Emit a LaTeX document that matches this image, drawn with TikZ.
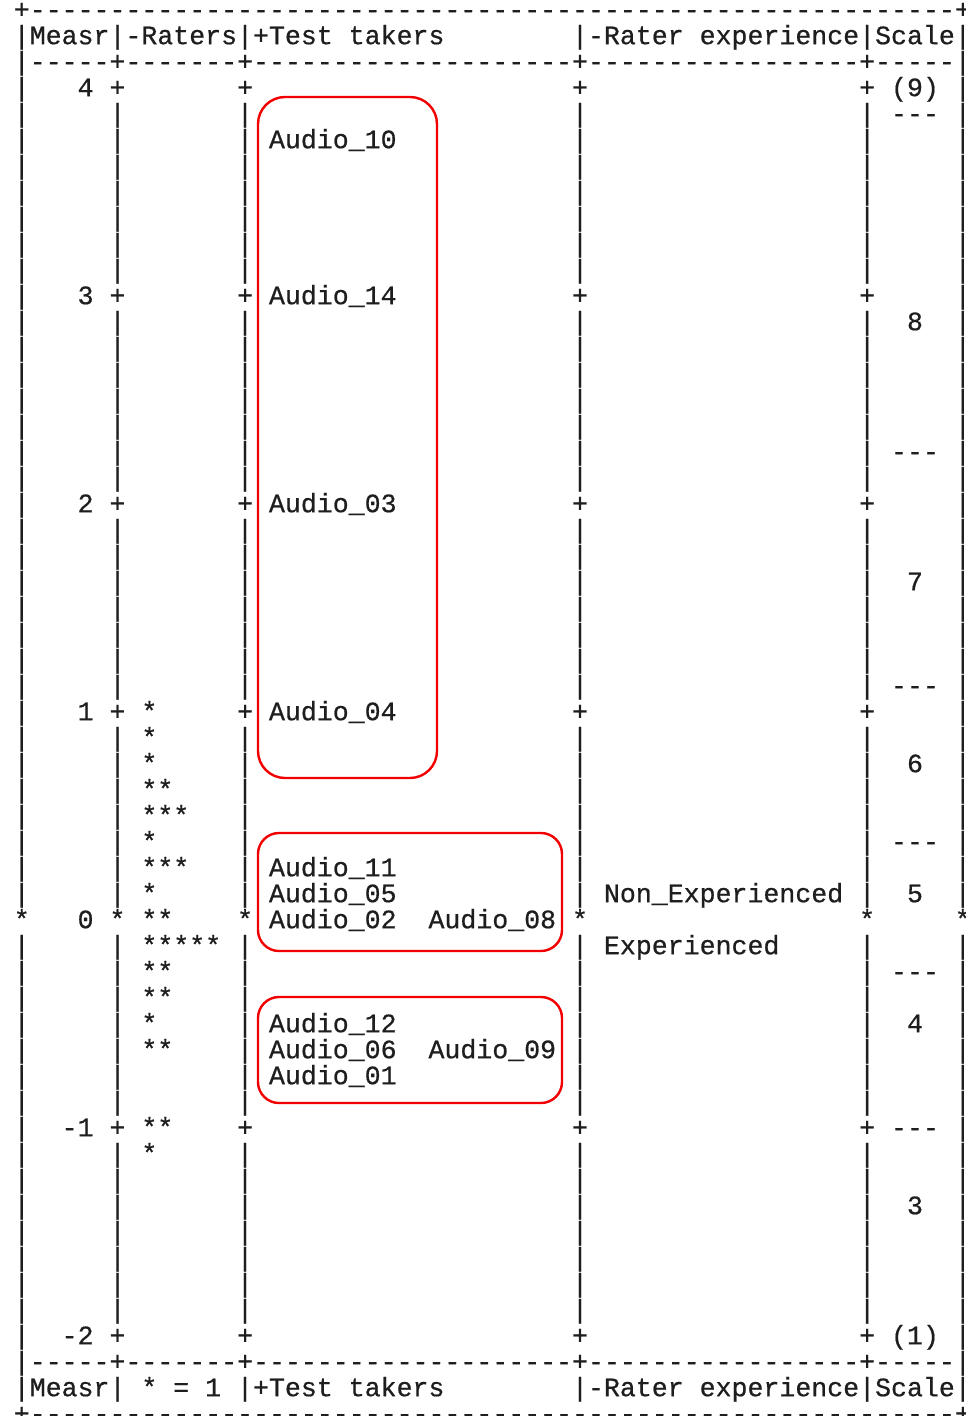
\documentclass[tikz,border=0pt]{standalone}
\usepackage{fontspec}
\newfontfamily\monofnt[FakeBold=0.6]{Liberation Mono}
\definecolor{ink}{HTML}{1E1E1E}
\definecolor{boxred}{HTML}{F20000}
\tikzset{
  txt/.style={anchor=base west, inner sep=0pt, outer sep=0pt,
    font=\monofnt\fontsize{26.58}{26}\selectfont, text=ink},
  redbox/.style={draw=boxred, line width=2.4pt},
}
\newcommand\cellt[3]{\node[txt] (c#1r#2) at ({13.8+15.95*#1},{9+26*#2+9.2}) {#3};}
\begin{document}
\begin{tikzpicture}[x=1pt,y=-1pt]
\useasboundingbox (0,0) rectangle (966,1416);
% ---- border lines (rows 0 and 54)
\foreach \r in {0,54}{
  \cellt{0}{\r}{+}\cellt{59}{\r}{+}
  \foreach \c in {1,...,58}{\cellt{\c}{\r}{-}}
}
% ---- separator lines (rows 2 and 52)
\foreach \r in {2,52}{
  \cellt{0}{\r}{|}\cellt{59}{\r}{|}
  \foreach \c in {1,...,58}{
    \ifnum\c=6 \def\sym{+}\else\ifnum\c=14 \def\sym{+}\else\ifnum\c=35 \def\sym{+}\else\ifnum\c=53 \def\sym{+}\else\def\sym{-}\fi\fi\fi\fi
    \cellt{\c}{\r}{\sym}}
}
% ---- header and footer rows
\foreach \r in {1,53}{
  \foreach \c in {0,6,14,35,53,59}{\cellt{\c}{\r}{|}}
  \cellt{1}{\r}{Measr}
  \cellt{15}{\r}{+}\cellt{16}{\r}{Test}\cellt{21}{\r}{takers}
  \cellt{36}{\r}{-}\cellt{37}{\r}{Rater}\cellt{43}{\r}{experience}
  \cellt{54}{\r}{Scale}
}
\cellt{7}{1}{-}\cellt{8}{1}{Raters}
\cellt{8}{53}{*}\cellt{10}{53}{=}\cellt{12}{53}{1}
% ---- body column rules
\foreach \r in {3,...,51}{
  \pgfmathtruncatemacro\m{mod(\r-3,8)}
  \ifnum\m=0 \def\sym{+}\else\def\sym{|}\fi
  \def\edge{|}
  \ifnum\r=35 \def\sym{*}\def\edge{*}\fi
  \foreach \c in {6,14,35,53}{\cellt{\c}{\r}{\sym}}
  \cellt{0}{\r}{\edge}\cellt{59}{\r}{\edge}
}
% ---- measure values
\cellt{4}{3}{4}\cellt{4}{11}{3}\cellt{4}{19}{2}\cellt{4}{27}{1}\cellt{4}{35}{0}
\cellt{3}{43}{-}\cellt{4}{43}{1}
\cellt{3}{51}{-}\cellt{4}{51}{2}
% ---- raters
\cellt{8}{27}{*}\cellt{8}{28}{*}\cellt{8}{29}{*}\cellt{8}{30}{**}
\cellt{8}{31}{***}\cellt{8}{32}{*}\cellt{8}{33}{***}\cellt{8}{34}{*}
\cellt{8}{35}{**}\cellt{8}{36}{*****}\cellt{8}{37}{**}\cellt{8}{38}{**}
\cellt{8}{39}{*}\cellt{8}{40}{**}\cellt{8}{43}{**}\cellt{8}{44}{*}
% ---- test takers
\cellt{16}{5}{Audio\_10}
\cellt{16}{11}{Audio\_14}
\cellt{16}{19}{Audio\_03}
\cellt{16}{27}{Audio\_04}
\cellt{16}{33}{Audio\_11}
\cellt{16}{34}{Audio\_05}
\cellt{16}{35}{Audio\_02}\cellt{26}{35}{Audio\_08}
\cellt{16}{39}{Audio\_12}
\cellt{16}{40}{Audio\_06}\cellt{26}{40}{Audio\_09}
\cellt{16}{41}{Audio\_01}
% ---- rater experience
\cellt{37}{34}{Non\_Experienced}
\cellt{37}{36}{Experienced}
% ---- scale
\cellt{55}{3}{(9)}\cellt{55}{51}{(1)}
\foreach \r/\v in {12/8,22/7,29/6,34/5,39/4,46/3}{\cellt{56}{\r}{\v}}
\foreach \r in {4,17,26,32,37,43}{
  \foreach \c in {55,56,57}{\cellt{\c}{\r}{-}}
}
% ---- highlight boxes
\draw[redbox, rounded corners=27pt] (258,97) rectangle (437,778);
\draw[redbox, rounded corners=21pt] (258,833) rectangle (562,951);
\draw[redbox, rounded corners=21pt] (258,997) rectangle (562,1103);
\end{tikzpicture}
\end{document}
